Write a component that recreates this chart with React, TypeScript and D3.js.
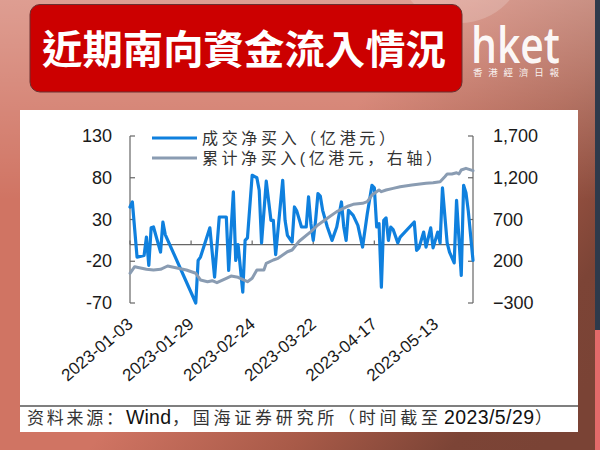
import React from 'react';
import * as d3 from 'd3';

const flowDates = [
  '2023-01-03','2023-01-04','2023-01-06','2023-01-09','2023-01-10','2023-01-11','2023-01-12','2023-01-13',
  '2023-01-16','2023-01-17','2023-01-18','2023-01-31','2023-02-01','2023-02-02','2023-02-06','2023-02-08',
  '2023-02-10','2023-02-13','2023-02-14','2023-02-16','2023-02-17','2023-02-18','2023-02-20','2023-02-21',
  '2023-02-22','2023-02-24','2023-02-26','2023-02-27','2023-02-28','2023-03-02','2023-03-04','2023-03-05',
  '2023-03-06','2023-03-09','2023-03-10','2023-03-11','2023-03-13','2023-03-14','2023-03-15','2023-03-17',
  '2023-03-19','2023-03-20','2023-03-21','2023-03-22','2023-03-23','2023-03-24','2023-03-25','2023-03-26',
  '2023-03-28','2023-03-30','2023-04-01','2023-04-03','2023-04-04','2023-04-05','2023-04-06','2023-04-08',
  '2023-04-10','2023-04-12','2023-04-14','2023-04-16','2023-04-17','2023-04-18','2023-04-19','2023-04-20',
  '2023-04-21','2023-04-22','2023-04-23','2023-04-24','2023-04-25','2023-04-27','2023-04-28','2023-05-04',
  '2023-05-05','2023-05-06','2023-05-08','2023-05-09','2023-05-11','2023-05-12','2023-05-14','2023-05-15',
  '2023-05-16','2023-05-18','2023-05-19','2023-05-21','2023-05-22','2023-05-24','2023-05-25','2023-05-26',
  '2023-05-27','2023-05-29'
];
const flowValues = [
  45, 51, -15, -13, 9, -25, 20, 21,
  -9, 27, 12, -70, -19, -15, 20, -39,
  33, 33, -31, 63, -19, 0, -57, 5,
  8, 83, 80, 65, 2, 76, 29, 29,
  -12, 77, 29, 11, 3, 45, 40, 21,
  21, 57, 25, 5, 29, 61, 58, 41,
  21, 5, 21, 51, 21, 5, 41, 35,
  23, -3, 37, 71, 68, 21, 25, -51,
  29, 32, 5, 21, 18, 2, 9, 27,
  -7, -4, 15, -3, 20, -4, 15, 2,
  68, 2, -9, -22, 53, -37, 71, 62,
  40, -19
];

const cumDates = [
  '2023-01-03','2023-01-05','2023-01-10','2023-01-13','2023-01-16','2023-01-19','2023-01-27','2023-01-31',
  '2023-02-02','2023-02-05','2023-02-07','2023-02-09','2023-02-13','2023-02-15','2023-02-18','2023-02-22',
  '2023-02-24','2023-02-26','2023-03-01','2023-03-02','2023-03-05','2023-03-07','2023-03-11','2023-03-13',
  '2023-03-16','2023-03-21','2023-03-24','2023-03-28','2023-04-01','2023-04-06','2023-04-08','2023-04-12',
  '2023-04-14','2023-04-16','2023-04-19','2023-04-20','2023-04-22','2023-04-25','2023-04-28','2023-05-03',
  '2023-05-09','2023-05-12','2023-05-15','2023-05-17','2023-05-18','2023-05-20','2023-05-22','2023-05-23',
  '2023-05-24','2023-05-26','2023-05-29'
];
const cumValues = [
  56, 135, 104, 95, 104, 143, 95, 56,
  -24, -45, -33, -57, -4, 23, 8, -45,
  -4, 95, 95, 175, 215, 235, 314, 335,
  440, 554, 634, 714, 794, 862, 882, 894,
  914, 993, 1053, 1033, 1053, 1073, 1093, 1113,
  1133, 1141, 1153, 1213, 1245, 1245, 1260, 1245,
  1293, 1313, 1285
];

const xTickDates = ['2023-01-03', '2023-01-29', '2023-02-24', '2023-03-22', '2023-04-17', '2023-05-13'];
const leftTicks = [130, 80, 30, -20, -70];
const rightTicks = [1700, 1200, 700, 200, -300];
const titleText = '近期南向資金流入情況';
const legendLabels = ['成交净买入（亿港元）', '累计净买入(亿港元，右轴）'];
// source note split into CJK / Latin runs
const sourceParts = ['资料来源：', 'Wind', '，国海证券研究所（时间截至', '2023/5/29', '）'];
const brandName = 'hket';
const brandSub = '香港經濟日報';

const BLUE = '#0f80de';
const GRAY = '#8a9cb2';

export default function App() {
  const parse = d3.timeParse('%Y-%m-%d');
  const x = d3.scaleTime().domain([parse('2023-01-03')!, parse('2023-05-29')!]).range([130, 473]);
  const yL = d3.scaleLinear().domain([-70, 130]).range([303, 136]);
  const yR = d3.scaleLinear().domain([-300, 1700]).range([303, 136]);

  const flow = flowDates.map((d, i) => ({ date: parse(d)!, v: flowValues[i] }));
  const cum = cumDates.map((d, i) => ({ date: parse(d)!, v: cumValues[i] }));

  const lineL = d3.line<{ date: Date; v: number }>().x(d => x(d.date)).y(d => yL(d.v));
  const lineR = d3.line<{ date: Date; v: number }>().x(d => x(d.date)).y(d => yR(d.v));

  const fmtR = d3.format(',');
  const numFont = "'Liberation Sans', Arial, sans-serif";
  const cjkFont = "'Noto Sans CJK SC', sans-serif";
  const mixFont = "'Liberation Sans', 'Noto Sans CJK SC', sans-serif";
  const axisColor = '#666';
  const x0 = x.range()[0];
  const x1 = x.range()[1];
  const zeroY = yL(0);

  // footer run layout: [x, textLength, isLatin]
  const footerRuns: [number, number, boolean][] = [
    [27, 96, false],
    [126, 45, true],
    [172, 266, false],
    [444, 90, true],
    [535, 15, false],
  ];

  return (
    <svg width={600} height={450} style={{ position: 'absolute', left: 0, top: 0 }}>
      <defs>
        <linearGradient id="bg" gradientUnits="userSpaceOnUse" x1={260} y1={230} x2={540} y2={450}>
          <stop offset="0" stopColor="#d07463" />
          <stop offset="0.45" stopColor="#a85a48" />
          <stop offset="0.8" stopColor="#7c4436" />
          <stop offset="1" stopColor="#7a4335" />
        </linearGradient>
        <linearGradient id="topLight" x1={0} y1={0} x2={0} y2={1}>
          <stop offset="0" stopColor="#ffffff" stopOpacity={0.3} />
          <stop offset="1" stopColor="#ffffff" stopOpacity={0} />
        </linearGradient>
      </defs>
      <rect x={0} y={0} width={600} height={450} fill="url(#bg)" />
      <rect x={0} y={0} width={600} height={200} fill="url(#topLight)" />
      <circle cx={460} cy={-42} r={65} fill="#ffffff" opacity={0.18} />
      <rect x={595} y={0} width={5} height={330} fill="#2e3a4b" />
      <rect x={595} y={330} width={5} height={120} fill="#e36a6a" />

      {/* Title */}
      <rect x={30} y={4.5} width={432} height={87.5} rx={10} fill="#cc0000" stroke="#6a3030" strokeWidth={1} />
      <text x={244} y={47} textAnchor="middle" dominantBaseline="central" fill="#fff"
        fontFamily="'Noto Sans CJK TC', 'Noto Sans CJK SC', sans-serif" fontWeight={700} fontSize={40}
        textLength={404} lengthAdjust="spacingAndGlyphs">{titleText}</text>

      {/* Brand */}
      <text fill="#fff">
        <tspan x={471} y={63} fillOpacity={0.95} fontFamily="'Open Sans', 'Noto Sans', sans-serif"
          fontWeight={600} fontSize={50} textLength={89} lengthAdjust="spacingAndGlyphs">{brandName}</tspan>
        <tspan x={473} y={76} fillOpacity={0.9} fontFamily="'Noto Sans CJK TC', sans-serif"
          fontSize={9.5} textLength={86} lengthAdjust="spacing">{brandSub}</tspan>
      </text>

      {/* Panel */}
      <rect x={20} y={110} width={558} height={322} fill="#fff" />
      <line x1={20} x2={578} y1={406} y2={406} stroke="#555" strokeWidth={1.5} />
      <text y={424}>
        {sourceParts.map((p, i) => {
          const [px, len, latin] = footerRuns[i];
          return (
            <tspan key={i} x={px} y={424} fill={latin ? '#111' : '#333'} fontFamily={latin ? numFont : cjkFont}
              fontSize={latin ? 19.5 : 17} textLength={len} lengthAdjust="spacing">{p}</tspan>
          );
        })}
      </text>

      {/* Left axis */}
      <line x1={x0} x2={x0} y1={yL(130)} y2={yL(-70)} stroke={axisColor} strokeWidth={1.2} />
      {leftTicks.map(t => (
        <g key={'l' + t}>
          <line x1={x0} x2={x0 + 5} y1={yL(t)} y2={yL(t)} stroke={axisColor} strokeWidth={1.2} />
          <text x={112} y={yL(t)} textAnchor="end" dominantBaseline="central" fontFamily={numFont}
            fontSize={18} fill="#1a1a1a">{t}</text>
        </g>
      ))}
      {/* Right axis */}
      <line x1={x1} x2={x1} y1={yR(1700)} y2={yR(-300)} stroke={axisColor} strokeWidth={1.2} />
      {rightTicks.map(t => (
        <g key={'r' + t}>
          <line x1={x1 - 5} x2={x1} y1={yR(t)} y2={yR(t)} stroke={axisColor} strokeWidth={1.2} />
          <text x={493} y={yR(t)} textAnchor="start" dominantBaseline="central" fontFamily={numFont}
            fontSize={18} fill="#1a1a1a">{fmtR(t)}</text>
        </g>
      ))}
      {/* X axis at zero */}
      <line x1={x0} x2={x1} y1={zeroY} y2={zeroY} stroke={axisColor} strokeWidth={1.2} />
      {xTickDates.map(d => {
        const px = x(parse(d)!);
        return (
          <g key={d}>
            <line x1={px} x2={px} y1={zeroY} y2={zeroY - 4} stroke={axisColor} strokeWidth={1.2} />
            <text transform={`translate(${px + 4},${326}) rotate(-40)`} textAnchor="end" fontFamily={numFont}
              fontSize={17} fill="#1a1a1a">{d}</text>
          </g>
        );
      })}

      {/* Series */}
      <path d={lineL(flow) || ''} fill="none" stroke={BLUE} strokeWidth={3.2} strokeLinejoin="round" strokeLinecap="round" />
      <path d={lineR(cum) || ''} fill="none" stroke={GRAY} strokeWidth={3} strokeLinejoin="round" strokeLinecap="round" />

      {/* Legend */}
      <line x1={152} x2={197} y1={138} y2={138} stroke={BLUE} strokeWidth={3} />
      <text x={202} y={138} dominantBaseline="central" fill="#333" fontFamily={mixFont} fontSize={16}
        textLength={193} lengthAdjust="spacing">{legendLabels[0]}</text>
      <line x1={152} x2={197} y1={158} y2={158} stroke={GRAY} strokeWidth={3} />
      <text x={202} y={158} dominantBaseline="central" fill="#333" fontFamily={mixFont} fontSize={16}
        textLength={240} lengthAdjust="spacing">{legendLabels[1]}</text>
    </svg>
  );
}
